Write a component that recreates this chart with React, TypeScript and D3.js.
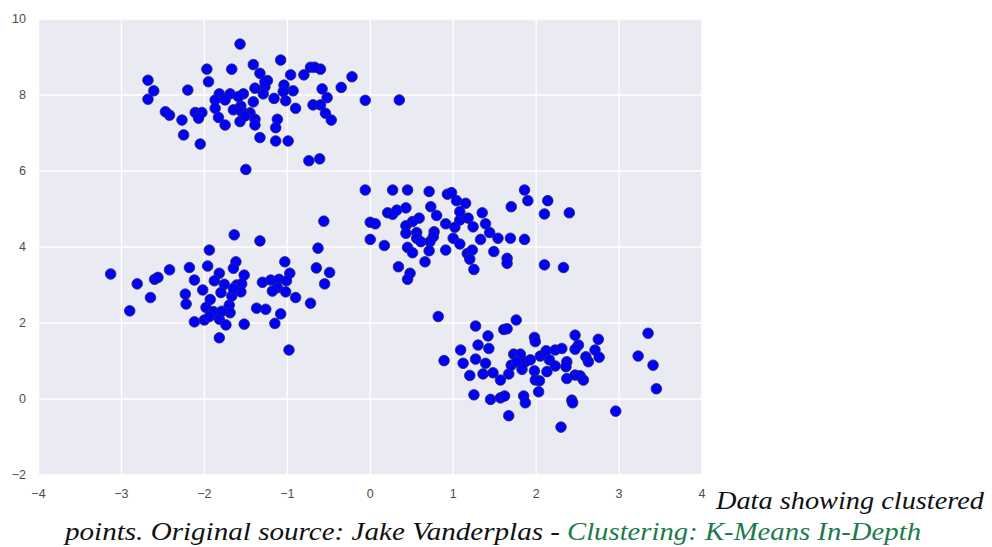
import React from "react";
import * as d3 from "d3";

// ---- Data (data units) ----
const xTicks = [-4, -3, -2, -1, 0, 1, 2, 3, 4];
const yTicks = [-2, 0, 2, 4, 6, 8, 10];

const clusterTopLeft: [number, number][] = [
  [-1.57, 9.34], [-1.08, 8.92], [-1.97, 8.68], [-1.67, 8.68], [-1.41, 8.8], [-1.33, 8.57],
  [-2.68, 8.39], [-1.95, 8.35], [-1.24, 8.38], [-0.96, 8.53], [-0.8, 8.53], [-0.72, 8.73],
  [-0.6, 8.68], [-0.67, 8.73], [-0.22, 8.48], [-2.61, 8.11], [-2.68, 7.89], [-2.2, 8.13],
  [-1.04, 8.26], [-0.93, 8.11], [-1.39, 8.18], [-1.27, 8.22], [-1.29, 8.03], [-1.82, 8.03],
  [-1.69, 8.03], [-1.53, 8.03], [-1.05, 8.09], [-0.58, 8.16], [-0.35, 8.2], [-0.06, 7.86],
  [-0.52, 7.93], [-1.16, 7.91], [-1.02, 7.85], [-1.87, 7.87], [-1.75, 7.87], [-0.69, 7.74],
  [-0.6, 7.74], [-2.47, 7.56], [-2.42, 7.47], [-2.11, 7.54], [-2.03, 7.54], [-2.07, 7.39],
  [-2.27, 7.34], [-1.87, 7.65], [-1.83, 7.41], [-1.65, 7.61], [-1.56, 7.71], [-1.45, 7.53],
  [-1.41, 7.82], [-0.9, 7.65], [-0.54, 7.52], [-0.47, 7.34], [-1.39, 7.36], [-1.39, 7.21],
  [-1.57, 7.3], [-1.75, 7.21], [-1.12, 7.36], [-1.14, 7.14], [-2.25, 6.95], [-1.33, 6.88],
  [-1.14, 6.79], [-0.99, 6.79], [-2.05, 6.71], [-0.74, 6.27], [-0.61, 6.32], [-1.5, 6.04],
  [0.35, 7.87], [-1.27, 8.35], [-1.55, 7.56], [-1.59, 7.96], [-1.51, 7.45],
];

const clusterBottomLeft: [number, number][] = [
  [-0.56, 4.68], [-1.64, 4.32], [-1.33, 4.16], [-1.94, 3.92], [-0.63, 3.97], [-3.13, 3.29],
  [-2.81, 3.03], [-2.6, 3.15], [-2.56, 3.2], [-2.42, 3.4], [-2.18, 3.46], [-1.96, 3.5],
  [-1.62, 3.61], [-1.65, 3.44], [-1.82, 3.31], [-1.52, 3.26], [-1.03, 3.61], [-0.97, 3.31],
  [-0.65, 3.45], [-0.49, 3.33], [-0.55, 3.03], [-2.12, 3.13], [-1.88, 3.11], [-1.76, 3.02],
  [-1.61, 3.0], [-1.55, 3.03], [-1.3, 3.07], [-1.2, 3.13], [-1.1, 3.15], [-1.01, 3.11],
  [-1.12, 2.93], [-1.18, 2.84], [-1.02, 2.82], [-0.9, 2.67], [-0.72, 2.52], [-2.65, 2.67],
  [-2.9, 2.32], [-2.23, 2.76], [-2.22, 2.5], [-2.02, 2.87], [-1.93, 2.62], [-1.8, 2.8],
  [-1.67, 2.71], [-1.56, 2.82], [-1.7, 2.47], [-1.98, 2.41], [-1.89, 2.3], [-1.69, 2.27],
  [-1.37, 2.39], [-1.26, 2.36], [-1.08, 2.24], [-2.12, 2.03], [-2.0, 2.08], [-1.94, 2.17],
  [-1.82, 2.1], [-1.74, 1.95], [-1.52, 1.97], [-1.15, 1.99], [-1.82, 1.61], [-0.98, 1.29],
  [-1.65, 2.91], [-1.79, 2.31],
];

const clusterMiddleRight: [number, number][] = [
  [-0.06, 5.5], [0.27, 5.5], [0.45, 5.5], [0.71, 5.46], [0.93, 5.39], [0.98, 5.43],
  [1.04, 5.22], [1.15, 5.15], [1.86, 5.5], [1.9, 5.22], [2.14, 5.22], [1.7, 5.06],
  [2.1, 4.87], [2.4, 4.9], [0.73, 5.06], [0.8, 4.83], [0.21, 4.9], [0.27, 4.86],
  [0.32, 4.97], [0.43, 5.03], [0.0, 4.65], [0.06, 4.61], [0.51, 4.67], [0.59, 4.76],
  [0.43, 4.56], [0.43, 4.36], [0.56, 4.38], [0.56, 4.23], [0.77, 4.4], [0.76, 4.27],
  [0.91, 4.61], [1.02, 4.52], [1.08, 4.71], [1.08, 4.93], [1.18, 4.76], [1.24, 4.53],
  [1.35, 4.9], [1.39, 4.61], [1.44, 4.38], [1.33, 4.2], [1.54, 4.23], [1.69, 4.23],
  [1.86, 4.2], [1.0, 4.23], [1.08, 4.08], [0.0, 4.2], [0.17, 4.04], [0.45, 3.99],
  [0.51, 3.85], [0.61, 4.14], [0.72, 4.14], [0.71, 3.9], [0.91, 3.92], [0.66, 3.61],
  [0.34, 3.48], [0.48, 3.31], [0.45, 3.15], [1.17, 3.83], [1.23, 3.92], [1.2, 3.68],
  [1.25, 3.41], [1.49, 3.88], [1.65, 3.7], [1.65, 3.57], [2.1, 3.53], [2.33, 3.46],
];

const clusterBottomRight: [number, number][] = [
  [0.82, 2.17], [1.27, 1.92], [1.61, 1.83], [1.65, 1.85], [1.76, 2.08], [1.42, 1.66],
  [1.09, 1.29], [0.89, 1.01], [1.3, 1.42], [1.43, 1.33], [1.27, 1.05], [1.12, 0.94],
  [1.39, 0.94], [1.2, 0.62], [1.36, 0.66], [1.48, 0.69], [1.57, 0.5], [1.67, 0.66],
  [1.7, 0.89], [1.73, 1.18], [1.81, 1.18], [1.87, 0.98], [1.83, 0.78], [1.98, 1.62],
  [1.99, 1.51], [2.05, 1.13], [2.12, 1.27], [2.23, 1.29], [2.31, 1.33], [2.16, 1.03],
  [2.23, 0.87], [2.37, 0.98], [2.36, 0.85], [2.37, 0.54], [2.47, 1.68], [2.51, 1.42],
  [2.47, 1.31], [2.6, 1.11], [2.63, 0.98], [2.71, 1.29], [2.75, 1.57], [2.76, 1.1],
  [2.47, 0.63], [2.53, 0.61], [2.57, 0.5], [2.13, 0.72], [1.98, 0.74], [1.99, 0.5],
  [2.04, 0.48], [2.03, 0.19], [1.25, 0.11], [1.45, -0.01], [1.57, 0.03], [1.62, 0.08],
  [1.85, 0.08], [1.87, -0.1], [1.67, -0.44], [2.43, -0.03], [2.44, -0.1], [2.3, -0.74],
  [2.96, -0.32], [3.35, 1.73], [3.23, 1.13], [3.41, 0.89], [3.45, 0.27], [1.77, 0.98],
  [1.93, 1.03],
];

const captionLine1 = "Data showing clustered";
const captionLine2 = "points. Original source: Jake Vanderplas - ";
const captionLink = "Clustering: K-Means In-Depth";

const allPoints = [
  ...clusterTopLeft,
  ...clusterBottomLeft,
  ...clusterMiddleRight,
  ...clusterBottomRight,
];

export default function App() {
  const W = 992;
  const H = 547;
  const plot = { left: 38.5, right: 702, top: 19, bottom: 475 };

  const x = d3.scaleLinear().domain([-4, 4]).range([plot.left, plot.right]);
  const y = d3.scaleLinear().domain([-2, 10]).range([plot.bottom, plot.top]);

  const fmt = (v: number) => (v < 0 ? "\u2212" + Math.abs(v) : String(v));
  const tickFont = "'Liberation Sans', Arial, sans-serif";
  const capFont = "'Liberation Serif', 'Times New Roman', serif";

  return (
    <svg
      width={W}
      height={H}
      style={{ position: "absolute", left: 0, top: 0, background: "#ffffff" }}
    >
      <rect
        x={plot.left}
        y={plot.top}
        width={plot.right - plot.left}
        height={plot.bottom - plot.top}
        fill="#EAEAF2"
      />
      {xTicks.map((t) => (
        <line
          key={"gx" + t}
          x1={x(t)}
          x2={x(t)}
          y1={plot.top}
          y2={plot.bottom}
          stroke="#ffffff"
          strokeWidth={1.3}
        />
      ))}
      {yTicks.map((t) => (
        <line
          key={"gy" + t}
          x1={plot.left}
          x2={plot.right}
          y1={y(t)}
          y2={y(t)}
          stroke="#ffffff"
          strokeWidth={1.3}
        />
      ))}
      {allPoints.map((p, i) => (
        <circle
          key={"p" + i}
          cx={x(p[0])}
          cy={y(p[1])}
          r={5.3}
          fill="#0000ff"
          stroke="#2a2a55"
          strokeWidth={0.8}
        />
      ))}
      {xTicks.map((t) => (
        <text
          key={"tx" + t}
          x={x(t)}
          y={498}
          textAnchor="middle"
          fontFamily={tickFont}
          fontSize={12.5}
          fill="#4d4d4d"
        >
          {fmt(t)}
        </text>
      ))}
      {yTicks.map((t) => (
        <text
          key={"ty" + t}
          x={26}
          y={y(t) + 3.5}
          textAnchor="end"
          fontFamily={tickFont}
          fontSize={12.5}
          fill="#4d4d4d"
        >
          {fmt(t)}
        </text>
      ))}
      <text
        x={716}
        y={509}
        fontFamily={capFont}
        fontStyle="italic"
        fontSize={26}
        fill="#111111"
        textLength={268}
        lengthAdjust="spacingAndGlyphs"
      >
        {captionLine1}
      </text>
      <text
        x={65}
        y={540}
        fontFamily={capFont}
        fontStyle="italic"
        fontSize={26}
        fill="#111111"
        textLength={495}
        lengthAdjust="spacingAndGlyphs"
      >
        {captionLine2}
      </text>
      <text
        x={567}
        y={540}
        fontFamily={capFont}
        fontStyle="italic"
        fontSize={26}
        fill="#1d7a4e"
        textLength={354}
        lengthAdjust="spacingAndGlyphs"
      >
        {captionLink}
      </text>
    </svg>
  );
}
